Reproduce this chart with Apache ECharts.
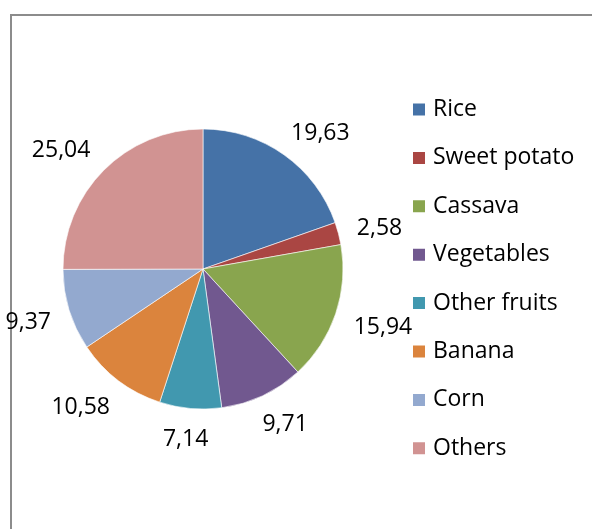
<!DOCTYPE html>
<html>
<head>
<meta charset="utf-8">
<script src="https://cdn.jsdelivr.net/npm/echarts@6/dist/echarts.min.js"></script>
<style>
html,body{margin:0;padding:0;background:#fff;}
#chart{width:592px;height:529px;}
</style>
</head>
<body>
<div id="chart"></div>
<script>
const categories = ['Rice', 'Sweet potato', 'Cassava', 'Vegetables', 'Other fruits', 'Banana', 'Corn', 'Others'];
const values = [19.63, 2.58, 15.94, 9.71, 7.14, 10.58, 9.37, 25.04];
const colors = ['#4572A7', '#AA4643', '#89A54E', '#71588F', '#4198AF', '#DB843D', '#93A9CF', '#D19392'];

const FONT = '"Open Sans", sans-serif';
const FS = 23;
const CX = 203, CY = 269, RAD = 140;
const ANCHOR_R = 159, BOX_H = 18, GLYPH_DY = 3;

const data = categories.map((c, i) => ({ name: c, value: values[i], itemStyle: { color: colors[i] } }));
const fmt = v => v.toFixed(2).replace('.', ',');
const total = values.reduce((a, b) => a + b, 0);
const midAngles = [];
{ let cum = 0; values.forEach(v => { midAngles.push((cum + v / 2) / total * 2 * Math.PI); cum += v; }); }

const clamp01 = t => Math.max(0, Math.min(1, t));
// "outside end" style: anchor point just outside the pie edge; the label box hangs off it
function placeLabel(params) {
  const th = midAngles[params.dataIndex];
  const ux = Math.sin(th), uy = -Math.cos(th);
  const w = params.labelRect.width, h = BOX_H;
  const px = CX + ANCHOR_R * ux, py = CY + ANCHOR_R * uy;
  const fx = clamp01(0.5 - 0.75 * ux), fy = clamp01(0.5 - 0.75 * uy);
  return { x: px + (0.5 - fx) * w, y: py + (0.5 - fy) * h + GLYPH_DY, align: 'center', verticalAlign: 'middle' };
}

const chart = echarts.init(document.getElementById('chart'), null, { renderer: 'canvas' });
chart.setOption({
  animation: false,
  backgroundColor: '#fff',
  graphic: [{
    type: 'rect',
    shape: { x: 11, y: 15, width: 700, height: 700 },
    style: { fill: 'none', stroke: '#8c8c8c', lineWidth: 2 },
    silent: true
  }],
  legend: {
    orient: 'vertical',
    left: 411,
    top: 97.5,
    padding: 0,
    itemWidth: 14,
    itemHeight: 14,
    itemGap: 24.4,
    icon: 'rect',
    data: categories,
    textStyle: { fontFamily: FONT, fontSize: FS, color: '#000', lineHeight: 24, padding: [0, 0, 0, 2] },
    selectedMode: false
  },
  series: [
    {
      type: 'pie',
      center: [CX, CY],
      radius: RAD,
      startAngle: 90,
      clockwise: true,
      data: data,
      label: {
        show: true,
        position: 'inside',
        overflow: 'none',
        formatter: p => fmt(p.value),
        fontFamily: FONT,
        fontSize: FS,
        color: '#000'
      },
      labelLine: { show: false },
      labelLayout: placeLabel,
      itemStyle: { borderColor: '#ffffff', borderWidth: 0.6 },
      emphasis: { disabled: true },
      silent: true
    }
  ]
});
</script>
</body>
</html>
